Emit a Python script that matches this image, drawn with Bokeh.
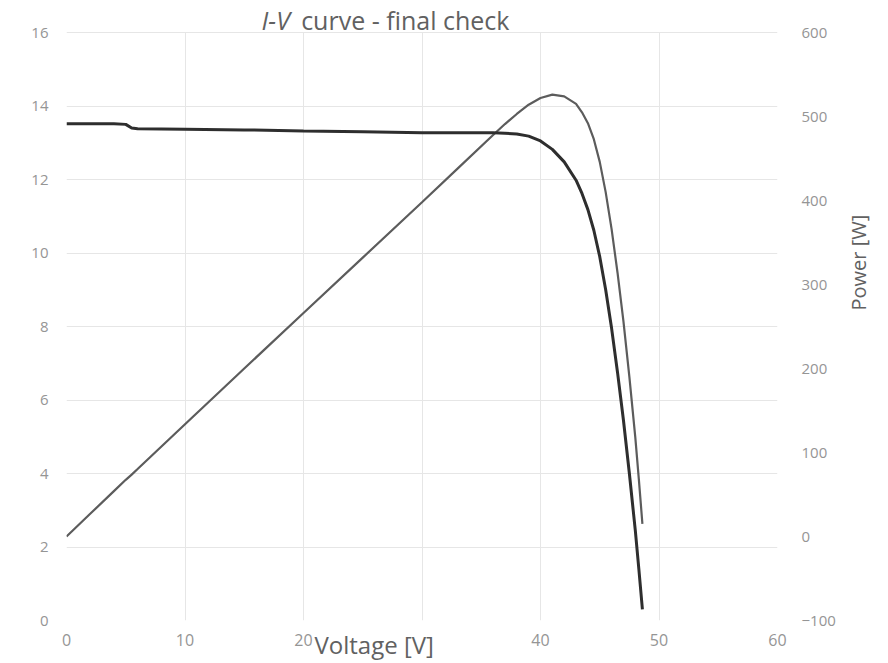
import math
from bokeh.plotting import figure
from bokeh.models import LinearAxis, Range1d, Label, FixedTicker, Grid, Title
from bokeh.embed import file_html
from bokeh.resources import INLINE

voltage = [0, 2, 4, 5, 5.5, 6, 10, 15, 20, 25, 30, 33, 36, 37, 38, 39, 40, 41, 42, 43,
           43.5, 44, 44.5, 45, 45.5, 46, 46.5, 47, 47.5, 48, 48.3, 48.6]
current = [13.52, 13.52, 13.52, 13.5, 13.4, 13.38, 13.37, 13.35, 13.32, 13.3, 13.27, 13.27,
           13.27, 13.26, 13.24, 13.18, 13.05, 12.82, 12.48, 11.98, 11.62, 11.18, 10.62, 9.9,
           9.0, 7.95, 6.75, 5.45, 4.0, 2.45, 1.4, 0.3]
power = [0, 27, 54, 67.5, 73.7, 80.3, 133.7, 200, 266, 332, 398, 438, 478, 491, 503, 514,
         522, 526, 524, 515, 505, 492, 473, 446, 410, 366, 314, 256, 190, 118, 68, 15]

x_ticks = [0, 10, 20, 30, 40, 50, 60]
left_ticks = [0, 2, 4, 6, 8, 10, 12, 14, 16]
right_ticks = [-100, 0, 100, 200, 300, 400, 500, 600]

title_italic = "I-V"
title_rest = "curve - final check"
x_label = "Voltage [V]"
right_label = "Power [W]"

FONT = "Open Sans"
TICK_COLOR = "#959595"
TEXT_COLOR = "#616161"

# frame reaches the top of the canvas so the title can sit inside it
p = figure(width=888, height=663, x_range=Range1d(0, 60), y_range=Range1d(0, 16 + 32 / 36.75),
           output_backend="svg", toolbar_location=None,
           min_border_left=66, min_border_right=104, min_border_top=0, min_border_bottom=43)
p.outline_line_color = None

p.extra_y_ranges = {"power": Range1d(-100, 600 + 32 / 0.84)}

p.xaxis.ticker = FixedTicker(ticks=x_ticks)
p.xaxis.major_label_overrides = {30: ""}
p.yaxis.ticker = FixedTicker(ticks=left_ticks)

right_axis = LinearAxis(y_range_name="power", ticker=FixedTicker(ticks=right_ticks))
p.add_layout(right_axis, "right")

for ax in [p.xaxis[0], p.yaxis[0], right_axis]:
    ax.axis_line_color = None
    ax.major_tick_line_color = None
    ax.minor_tick_line_color = None
    ax.major_tick_out = 0
    ax.major_tick_in = 0
    ax.major_label_text_font = FONT
    ax.major_label_text_font_size = "15px"
    ax.major_label_text_color = TICK_COLOR

p.xaxis.major_label_text_font_size = "16px"
p.xaxis.major_label_standoff = 13
p.yaxis.major_label_standoff = 18
right_axis.major_label_standoff = 24

right_axis.axis_label = right_label
right_axis.axis_label_orientation = math.pi / 2
right_axis.axis_label_text_align = "left"
right_axis.axis_label_standoff = 20
right_axis.axis_label_text_font = FONT
right_axis.axis_label_text_font_size = "20px"
right_axis.axis_label_text_font_style = "normal"
right_axis.axis_label_text_color = TEXT_COLOR

# x label drawn on the tick-label row, shifted left like the reference
xlabel_title = Title(text=x_label, align="left", offset=248, vertical_align="top",
                     text_font=FONT, text_font_size="24px", text_font_style="normal",
                     text_color=TEXT_COLOR)
try:
    xlabel_title.standoff = -41
    p.add_layout(xlabel_title, "below")
except Exception:
    p.xaxis.axis_label = x_label
    p.xaxis.axis_label_standoff = -28
    p.xaxis.axis_label_text_font = FONT
    p.xaxis.axis_label_text_font_size = "24px"
    p.xaxis.axis_label_text_font_style = "normal"
    p.xaxis.axis_label_text_color = TEXT_COLOR

p.xgrid.ticker = FixedTicker(ticks=x_ticks)
p.ygrid.ticker = FixedTicker(ticks=left_ticks)
p.xgrid.grid_line_color = "#e6e6e6"
p.ygrid.grid_line_color = "#e6e6e6"
if "cross_bounds" in Grid.properties():
    p.xgrid.cross_bounds = (0, 16)

p.line(voltage, power, y_range_name="power", line_color="#5c5c5c", line_width=2.2)
p.line(voltage, current, line_color="#2e2e2e", line_width=3)

p.add_layout(Label(x=16.46, y=16.346, text=title_italic, text_font=FONT, text_font_style="italic",
                   text_font_size="25px", text_color=TEXT_COLOR, text_baseline="alphabetic",
                   text_align="left", level="overlay"))
p.add_layout(Label(x=19.8, y=16.346, text=title_rest, text_font=FONT,
                   text_font_size="25px", text_color=TEXT_COLOR, text_baseline="alphabetic",
                   text_align="left", level="overlay"))

open("out.html", "w").write(file_html(p, INLINE))
